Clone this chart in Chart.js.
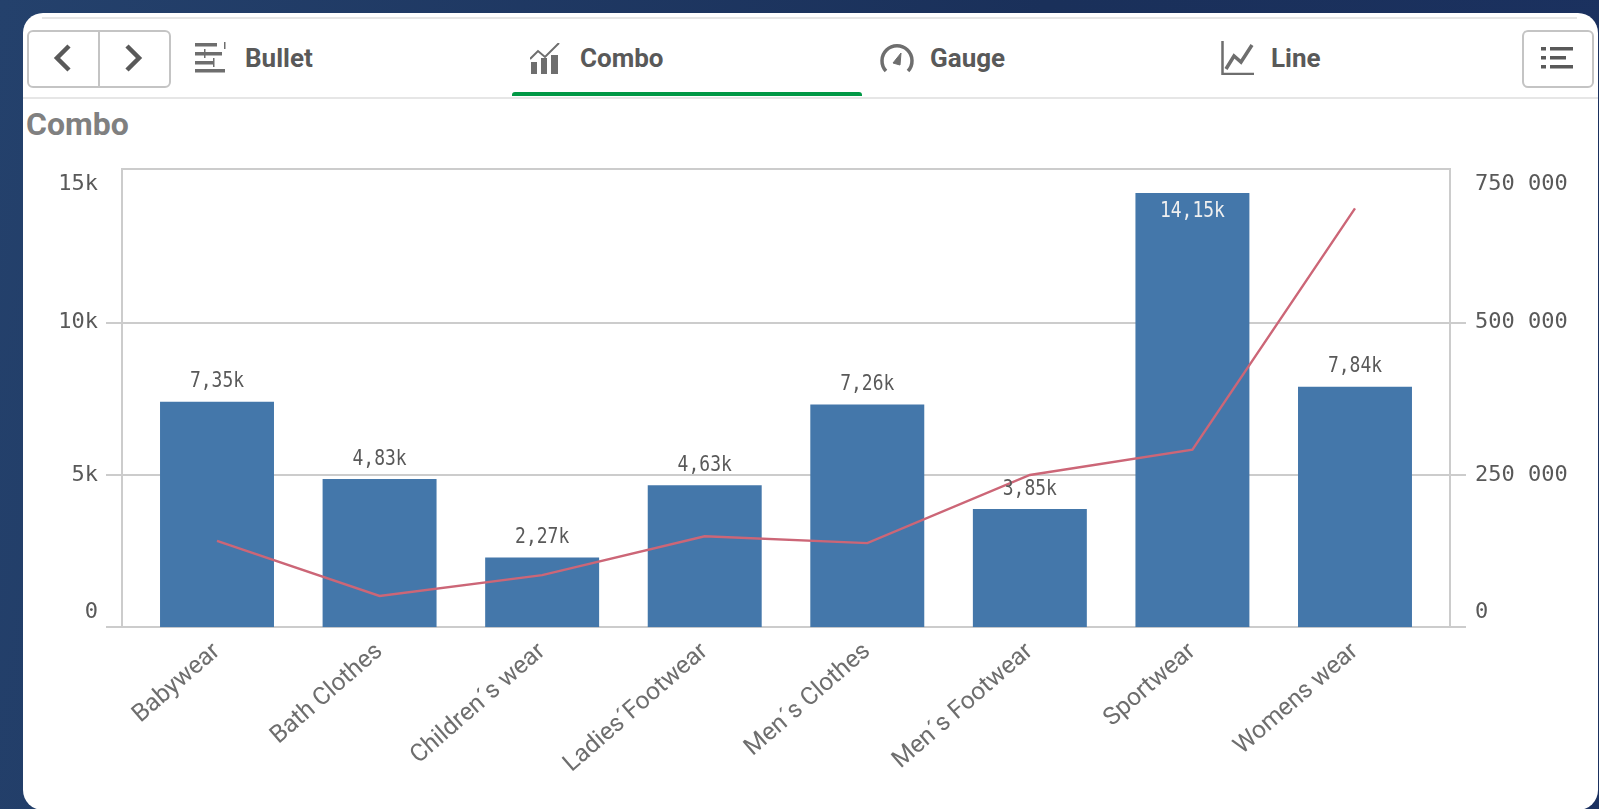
<!DOCTYPE html>
<html>
<head>
<meta charset="utf-8">
<title>Combo</title>
<script src="https://cdn.jsdelivr.net/npm/chart.js@4"></script>
<style>
  html, body { margin: 0; width: 1599px; height: 809px; overflow: hidden; }
  body { background: linear-gradient(100deg, #24416c 0%, #1a305a 60%, #1b3160 100%); font-family: Roboto, sans-serif; position: relative; }
  .card { position: absolute; left: 23px; top: 13px; width: 1575px; height: 797px; background: #fff; border-radius: 20px; }
  .line { position: absolute; height: 2px; background: #e6e6e6; }
  .btn { position: absolute; top: 30px; height: 54px; border: 2px solid #c4c4c4; border-radius: 6px; box-sizing: content-box; }
  .tab { position: absolute; top: 41px; font-size: 26px; font-weight: 700; color: #595959; line-height: 34px; }
  .icon { position: absolute; }
  h1 { position: absolute; left: 26px; top: 104px; margin: 0; font-size: 32px; line-height: 40px; color: #808080; font-weight: 700; }
  #green { position: absolute; left: 512px; top: 92px; width: 350px; height: 4px; background: #009845; border-radius: 3px 3px 0 0; }
  canvas { position: absolute; left: 0; top: 0; }
</style>
</head>
<body>
<div class="card"></div>
<div class="line" style="top:17px;left:42px;width:1535px"></div>
<div class="line" style="top:97px;left:23px;width:1575px"></div>

<div class="btn" style="left:27px;width:140px"></div>
<div style="position:absolute;left:98px;top:30px;width:2px;height:56px;background:#c4c4c4"></div>
<svg class="icon" style="left:51px;top:42px" width="100" height="32" fill="none" stroke="#595959" stroke-width="4.5">
  <path d="M18 4 L6 16 L18 28"/><path d="M76 4 L88 16 L76 28"/>
</svg>
<div class="btn" style="left:1522px;width:68px"></div>
<svg class="icon" style="left:1541px;top:46px" width="36" height="24" fill="#595959">
  <rect x="0" y="1" width="5" height="3.5"/><rect x="9" y="1" width="23" height="3.5"/>
  <rect x="0" y="10" width="5" height="3.5"/><rect x="9" y="10" width="16" height="3.5"/>
  <rect x="0" y="19" width="5" height="3.5"/><rect x="9" y="19" width="23" height="3.5"/>
</svg>

<svg class="icon" style="left:195px;top:42px" width="32" height="32" fill="#6e6e6e">
  <rect x="0" y="1" width="22" height="3.5"/><rect x="0" y="10" width="27" height="3.5"/>
  <rect x="0" y="19" width="19" height="3.5"/><rect x="0" y="27" width="30" height="3.5"/>
  <rect x="29" y="0" width="1.5" height="7"/><rect x="9" y="7" width="1.5" height="9"/><rect x="18" y="16" width="1.5" height="9"/>
</svg>
<div class="tab" style="left:245px">Bullet</div>

<svg class="icon" style="left:530px;top:43px" width="32" height="32" fill="#6e6e6e">
  <rect x="1" y="19" width="6" height="12"/><rect x="11" y="15" width="6" height="16"/><rect x="21" y="12" width="7" height="19"/>
  <path d="M0 16 L8 8 L15 14 L29 0" fill="none" stroke="#6e6e6e" stroke-width="2"/>
</svg>
<div class="tab" style="left:580px">Combo</div>
<div id="green"></div>

<svg class="icon" style="left:880px;top:43px" width="34" height="30" fill="none" stroke="#6e6e6e" stroke-width="3.5">
  <path d="M6 28 A15 15 0 1 1 28 28"/>
  <path d="M13 20 L21 10 L20 22 Z" fill="#6e6e6e" stroke-width="1"/>
</svg>
<div class="tab" style="left:930px">Gauge</div>

<svg class="icon" style="left:1221px;top:41px" width="34" height="34" fill="none" stroke="#6e6e6e">
  <path d="M1.5 0 V33 H33" stroke-width="2.5"/>
  <path d="M5 28 L13 15 L20 21 L31 4" stroke-width="3.5"/>
</svg>
<div class="tab" style="left:1271px">Line</div>

<h1>Combo</h1>
<canvas id="combo" width="1599" height="809"></canvas>

<script>
/* --- data --- */
const categories = ['Babywear', 'Bath Clothes', 'Children´s wear', 'Ladies´Footwear', 'Men´s Clothes', 'Men´s Footwear', 'Sportwear', 'Womens wear'];
const barValues = [7350, 4830, 2270, 4630, 7260, 3850, 14150, 7840];
const lineValues = [141900, 51500, 85700, 149300, 138200, 250000, 291600, 687500];
// the top tick sits on the box edge, a little above the real 15k / 750 000
const leftTicks = [0, 5000, 10000, 15050];
const rightTicks = [0, 250000, 500000, 752500];

const GRID = '#cccccc';
const TICK_COLOR = '#595959';
const MONO = "'DejaVu Sans Mono', monospace";
const LEFT_MAX = 15050;
const RIGHT_MAX = 752500;
const BAR_MAX = 14940;   // bars run slightly taller than the gridlines in the picture
const X_PAD = 0.0844;

// category scale with a bit of room at both ends of the plot
class PaddedCategory extends Chart.registry.getScale('category') {
  configure() {
    super.configure();
    this._startValue = -0.5 - X_PAD;
    this._valueRange = categories.length + 2 * X_PAD;
  }
}
PaddedCategory.id = 'paddedCategory';
Chart.register(PaddedCategory);

// first and last value labels sit inside the plot: blank line pushes them in
function edgeLabel(text, value, max) {
  if (value === 0) return [text, ''];
  if (value === max) return ['', text];
  return text;
}

const barLabels = {
  id: 'barLabels',
  afterDatasetsDraw(chart) {
    const ctx = chart.ctx;
    const bars = chart.getDatasetMeta(1).data;
    ctx.font = '18px ' + MONO;
    ctx.textAlign = 'center';
    ctx.textBaseline = 'middle';
    bars.forEach((bar, i) => {
      const v = barValues[i];
      const text = (v / 1000).toFixed(2).replace('.', ',') + 'k';
      const inside = v > 14000;
      ctx.save();
      ctx.translate(bar.x, inside ? bar.y + 18 : bar.y - 20);
      ctx.scale(1, 1.2);
      ctx.fillStyle = inside ? '#f0f0f0' : TICK_COLOR;
      ctx.fillText(text, 0, 0);
      ctx.restore();
    });
  }
};

new Chart(document.getElementById('combo').getContext('2d'), {
  data: {
    labels: categories,
    datasets: [
      { type: 'line', data: lineValues, yAxisID: 'right', borderColor: '#cc6677', borderWidth: 2.4, pointRadius: 0, tension: 0, order: 1 },
      { type: 'bar', data: barValues, yAxisID: 'bars', backgroundColor: '#4477aa', categoryPercentage: 1, barPercentage: 0.701, order: 2 }
    ]
  },
  plugins: [barLabels],
  options: {
    responsive: false,
    animation: false,
    layout: { padding: { top: 168.7, left: 0, right: 0, bottom: 0 } },
    plugins: { legend: { display: false }, tooltip: { enabled: false } },
    scales: {
      x: {
        type: 'paddedCategory',
        grid: { display: false },
        border: { display: false },
        afterFit: s => { s.height = 181.7; },
        ticks: {
          autoSkip: false, minRotation: 41, maxRotation: 41, padding: 2,
          color: '#6e6e6e', font: { family: 'Roboto', size: 24.5 }
        }
      },
      bars: { display: false, min: 0, max: BAR_MAX },
      left: {
        position: 'left', min: 0, max: LEFT_MAX,
        afterBuildTicks: s => { s.ticks = leftTicks.map(value => ({ value })); },
        afterFit: s => { s.width = 122; },
        border: { display: true, color: GRID, width: 2 },
        grid: {
          color: GRID, lineWidth: 2, tickLength: 16,
          tickColor: c => (c.tick && c.tick.value === LEFT_MAX ? 'transparent' : GRID)
        },
        ticks: {
          padding: 8, color: TICK_COLOR, font: { family: MONO, size: 22, lineHeight: '31px' },
          callback: v => edgeLabel(v === 0 ? '0' : Math.floor(v / 1000) + 'k', v, LEFT_MAX)
        }
      },
      right: {
        position: 'right', min: 0, max: RIGHT_MAX,
        afterBuildTicks: s => { s.ticks = rightTicks.map(value => ({ value })); },
        afterFit: s => { s.width = 149; },
        border: { display: true, color: GRID, width: 2 },
        grid: {
          drawOnChartArea: false, color: GRID, lineWidth: 2, tickLength: 16,
          tickColor: c => (c.tick && c.tick.value === RIGHT_MAX ? 'transparent' : GRID)
        },
        ticks: {
          padding: 9, color: TICK_COLOR, font: { family: MONO, size: 22, lineHeight: '31px' },
          callback: v => edgeLabel(String(Math.min(v, 750000)).replace(/\B(?=(\d{3})+$)/g, '\u2009'), v, RIGHT_MAX)
        }
      }
    }
  }
});
</script>
</body>
</html>
